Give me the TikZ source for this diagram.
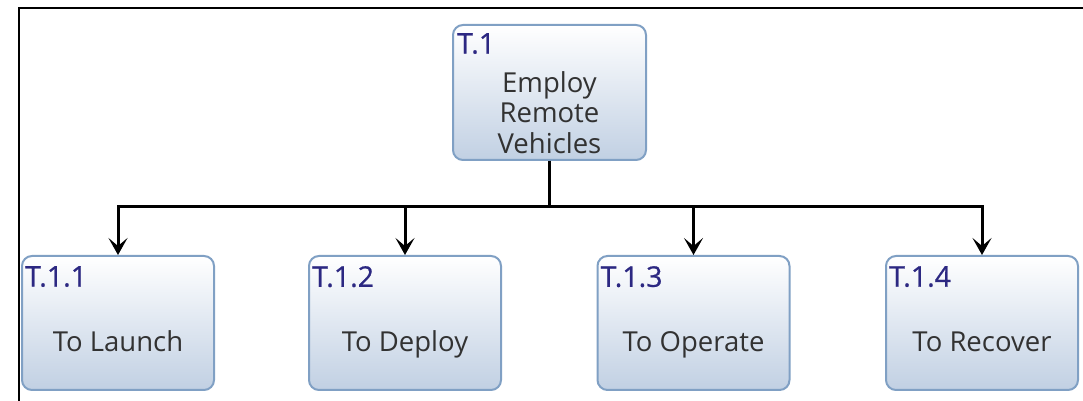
\documentclass[tikz,border=0pt]{standalone}
\usepackage{fontspec}
\setmainfont{Open Sans}
\newfontfamily\idfont[FakeBold=0.7]{Open Sans}
\usetikzlibrary{arrows.meta}

\definecolor{taskedge}{RGB}{128,160,196}
\definecolor{taskfill}{RGB}{193,208,227}
\definecolor{taskid}{RGB}{44,40,130}
\definecolor{tasktext}{RGB}{50,50,50}

\tikzset{
  task/.style={draw=taskedge, line width=2pt, rounded corners=10pt,
    top color=white, bottom color=taskfill, minimum width=192pt,
    minimum height=134pt, inner sep=0pt},
  taskid/.style={anchor=north west, text=taskid, inner sep=0pt,
    font=\idfont\fontsize{28.5}{30}\selectfont},
  tasklabel/.style={text=tasktext, align=center, inner sep=0pt,
    font=\fontsize{27.5}{30.5}\selectfont},
  link/.style={line width=3pt, -{Stealth[length=17pt,width=19pt,inset=8pt]}}
}

\begin{document}
\begin{tikzpicture}[x=1pt,y=1pt]

\useasboundingbox[fill=white] (0,0) rectangle (1083,401);

% frame
\draw[line width=2.6pt] (19,0) -- (19,393) -- (1083,393);

% parent task
\node[task, minimum width=193pt, minimum height=135pt] (t1) at (549.5,308.5) {};
\node[taskid] at ([xshift=5pt,yshift=-9pt]t1.north west) {T.1};
\node[tasklabel] (t1text) at ([yshift=-20pt]t1.center) {Employ\\Remote\\Vehicles};

% subtasks
\node[task] (t11) at (118,78) {};
\node[task] (t12) at (405,78) {};
\node[task] (t13) at (693.5,78) {};
\node[task] (t14) at (982,78) {};

\node[taskid] at ([xshift=4pt,yshift=-11pt]t11.north west) {T.1.1};
\node[taskid] at ([xshift=4pt,yshift=-11pt]t12.north west) {T.1.2};
\node[taskid] at ([xshift=4pt,yshift=-11pt]t13.north west) {T.1.3};
\node[taskid] at ([xshift=4pt,yshift=-11pt]t14.north west) {T.1.4};

\node[tasklabel, anchor=base] at (t11.center |- 0,49) {To Launch};
\node[tasklabel, anchor=base] at (t12.center |- 0,49) {To Deploy};
\node[tasklabel, anchor=base] at (t13.center |- 0,49) {To Operate};
\node[tasklabel, anchor=base] at (t14.center |- 0,49) {To Recover};

% bus from parent to each subtask
\coordinate (bus) at (549.5,194);
\foreach \sub in {t11,t12,t13,t14}
  \draw[link] (t1.south) -- (bus) -| (\sub.north);

\end{tikzpicture}
\end{document}
